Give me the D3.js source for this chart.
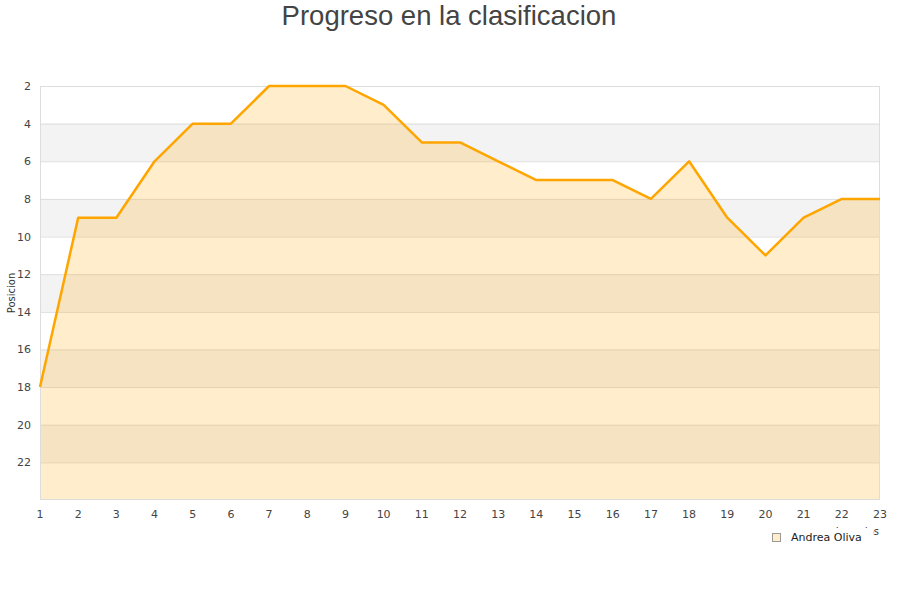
<!DOCTYPE html>
<html><head><meta charset="utf-8">
<script src="https://cdn.jsdelivr.net/npm/d3@7"></script>
<style>body{margin:0;background:#fff}svg{display:block}</style>
</head><body>
<svg id="c" width="900" height="600"></svg>
<script>
const jornadas = [1,2,3,4,5,6,7,8,9,10,11,12,13,14,15,16,17,18,19,20,21,22,23];
const posicion = [18,9,9,6,4,4,2,2,2,3,5,5,6,7,7,7,8,6,9,11,9,8,8];
const yTicks = [2,4,6,8,10,12,14,16,18,20,22];
const seriesName = "Andrea Oliva";
const title = "Progreso en la clasificacion";
const yTitle = "Posicion";
const xTitle = "Jornadas";

const svg = d3.select("#c");
const L = 40, R = 880, T = 86, B = 500;
const x = d3.scaleLinear().domain([1,23]).range([L,R]);
const y = d3.scaleLinear().domain([2,24]).range([T,B]);

// bands
const bands = d3.range(2,24,2);
svg.selectAll("rect.band").data(bands).enter().append("rect")
  .attr("x",L).attr("width",R-L)
  .attr("y",d=>y(d)).attr("height",d=>y(d+2)-y(d))
  .attr("fill",(d,i)=> i%2===1 ? "#f3f3f3" : "#ffffff");

// grid lines
svg.selectAll("line.grid").data(yTicks).enter().append("line")
  .attr("x1",L).attr("x2",R).attr("y1",d=>y(d)+0.5).attr("y2",d=>y(d)+0.5)
  .attr("stroke","#dddddd").attr("stroke-width",1);

// area
const area = d3.area().x((d,i)=>x(jornadas[i])).y0(y(24)).y1(d=>y(d));
svg.append("path").datum(posicion).attr("d",area)
  .attr("fill","rgba(255,165,0,0.2)");

// plot border
svg.append("rect").attr("x",L+0.5).attr("y",T+0.5).attr("width",R-L-1).attr("height",B-T-1)
  .attr("fill","none").attr("stroke","#dddddd");

// line
const line = d3.line().x((d,i)=>x(jornadas[i])).y(d=>y(d));
svg.append("path").datum(posicion).attr("d",line)
  .attr("fill","none").attr("stroke","#ffa500").attr("stroke-width",2.5).attr("stroke-linejoin","round");

// y axis labels
svg.selectAll("text.yt").data(yTicks).enter().append("text")
  .attr("x",31).attr("y",d=>y(d)+4).attr("text-anchor","end")
  .attr("font-family","DejaVu Sans, sans-serif").attr("font-size",11).attr("fill","#444")
  .text(d=>d);

// x axis labels
svg.selectAll("text.xt").data(jornadas).enter().append("text")
  .attr("x",d=>x(d)).attr("y",518).attr("text-anchor","middle")
  .attr("font-family","DejaVu Sans, sans-serif").attr("font-size",11).attr("fill","#444")
  .text(d=>d);

// y title
svg.append("text").attr("transform","translate(15,293) rotate(-90)")
  .attr("text-anchor","middle").attr("font-family","DejaVu Sans, sans-serif")
  .attr("font-size",10).attr("fill","#333").text(yTitle);

// x title (mostly hidden by legend)
svg.append("text").attr("x",879).attr("y",535).attr("text-anchor","end")
  .attr("font-family","DejaVu Sans, sans-serif").attr("font-size",10).attr("fill","#333").text(xTitle);

// legend
const lg = svg.append("g");
lg.append("rect").attr("x",764).attr("y",528).attr("width",109).attr("height",22).attr("fill","#fff");
lg.append("rect").attr("x",772.5).attr("y",533.5).attr("width",8).attr("height",8)
  .attr("fill","#ffedcc").attr("stroke","#999").attr("stroke-width",1);
lg.append("text").attr("x",791).attr("y",541).attr("font-family","DejaVu Sans, sans-serif")
  .attr("font-size",11).attr("fill","#222").text(seriesName);

// title
svg.append("text").attr("x",449).attr("y",25).attr("text-anchor","middle")
  .attr("font-family","Liberation Sans, Arial, sans-serif").attr("font-size",27.5).attr("fill","#444")
  .text(title);
</script>
</body></html>
